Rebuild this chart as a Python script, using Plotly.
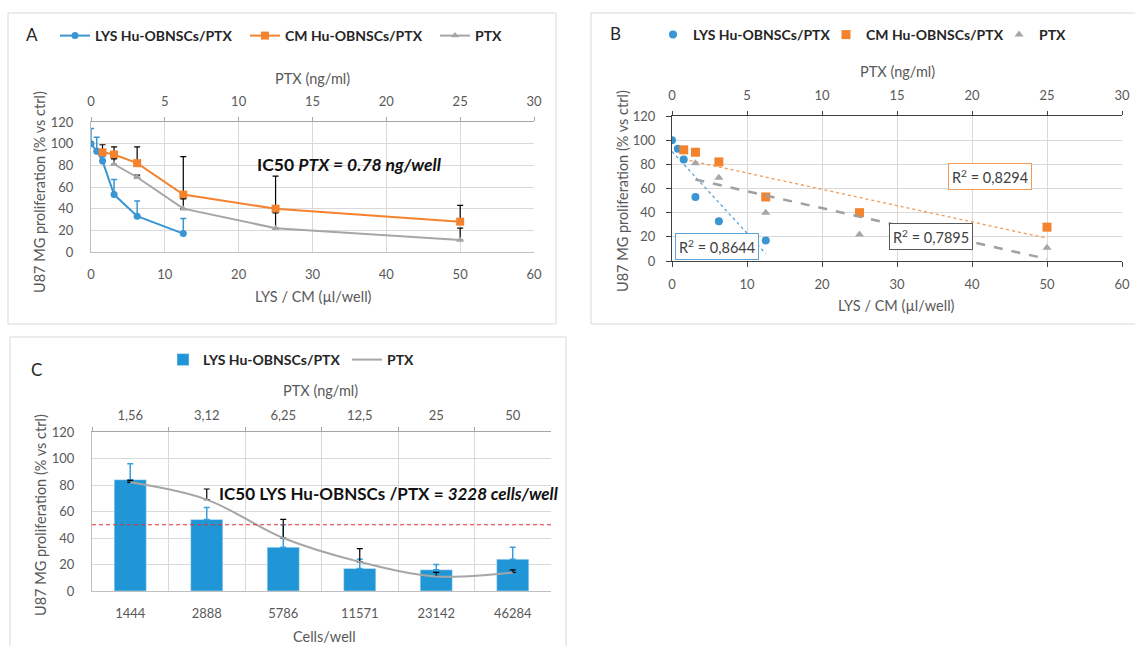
import numpy as np
import plotly.graph_objects as go

# ---------------- data: panels A and B ----------------
lys_x = [0, 0.78, 1.56, 3.125, 6.25, 12.5]          # LYS (ul/well)
lys_y = [100, 93, 84, 53, 33, 17]
lys_err = [14, 13, 4, 14, 14, 14]
cm_x = [1.56, 3.125, 6.25, 12.5, 25, 50]            # CM (ul/well)
cm_y = [92, 90, 82, 53, 40, 28]
cm_err = [7, 7, 15, 35, 30, 15]
ptx_x = [1.56, 3.125, 6.25, 12.5, 25]               # PTX (ng/ml), top axis
ptx_y = [81, 69, 40, 22, 11]
ptx_err = [5, 2, 9, 14, 11]
r2_lys = "R<sup>2</sup> = 0,8644"
r2_cm = "R<sup>2</sup> = 0,8294"
r2_ptx = "R<sup>2</sup> = 0,7895"

# ---------------- data: panel C ----------------
cells = ["1444", "2888", "5786", "11571", "23142", "46284"]
ptx_conc = ["1,56", "3,12", "6,25", "12,5", "25", "50"]
lys_c = [84, 54, 33, 17, 16, 24]
lys_c_err = [12, 9, 17, 7, 4, 9]
ptx_c = [82, 69, 40, 22, 11, 14]
ptx_c_err = [1.5, 8, 14, 10, 3, 2]
ic50_level = 50

names = ["LYS Hu-OBNSCs/PTX", "CM Hu-OBNSCs/PTX", "PTX"]

# ---------------- style ----------------
W, H = 1135, 646
FONT = "Lato"
BLUE = "#3A95D3"
BAR = "#2196D6"
ORANGE = "#F5822D"
GRAY = "#A6A6A6"
GRID = "#D9D9D9"
TXT = "#595959"


def px_x(a, b):
    return [a / W, b / W]


def px_y(top, bottom):
    return [1 - bottom / H, 1 - top / H]


def px(xp, yp):
    return xp / W, 1 - yp / H


def up_err(vals, color, thick=1.2):
    return dict(type="data", symmetric=False, array=vals,
                arrayminus=[0] * len(vals), color=color,
                thickness=thick, width=3)


fig = go.Figure()

# ---------------- Panel A ----------------
fig.add_trace(go.Scatter(x=lys_x, y=lys_y, mode="lines+markers", name=names[0],
                         line=dict(color=BLUE, width=2),
                         marker=dict(symbol="circle", size=7, color=BLUE),
                         error_y=up_err(lys_err, BLUE, 1.5),
                         xaxis="x", yaxis="y", legend="legend"))
fig.add_trace(go.Scatter(x=cm_x, y=cm_y, mode="lines+markers", name=names[1],
                         line=dict(color=ORANGE, width=2),
                         marker=dict(symbol="square", size=8, color=ORANGE),
                         error_y=up_err(cm_err, "#000000"),
                         xaxis="x", yaxis="y", legend="legend"))
fig.add_trace(go.Scatter(x=ptx_x, y=ptx_y, mode="lines+markers", name=names[2],
                         line=dict(color=GRAY, width=2),
                         marker=dict(symbol="triangle-up", size=7, color=GRAY),
                         error_y=up_err(ptx_err, "#000000"),
                         xaxis="x2", yaxis="y", legend="legend",
                         legendwidth=30))

# ---------------- Panel B ----------------
def trend(xs, ys):
    c = np.polyfit(xs, ys, 1)
    xr = np.array([min(xs), max(xs)])
    return xr, np.polyval(c, xr)

tx, ty = trend(lys_x, lys_y)
fig.add_trace(go.Scatter(x=tx, y=ty, mode="lines", showlegend=False,
                         line=dict(color="#5BA3D6", width=1.3, dash="dot"),
                         xaxis="x3", yaxis="y2", hoverinfo="skip"))
tx, ty = trend(cm_x, cm_y)
fig.add_trace(go.Scatter(x=tx, y=ty, mode="lines", showlegend=False,
                         line=dict(color="#F39A55", width=1.3, dash="dot"),
                         xaxis="x3", yaxis="y2", hoverinfo="skip"))
tx, ty = trend(ptx_x, ptx_y)
fig.add_trace(go.Scatter(x=tx, y=ty, mode="lines", showlegend=False,
                         line=dict(color="#A0A0A0", width=2.5, dash="dash"),
                         xaxis="x4", yaxis="y2", hoverinfo="skip"))

fig.add_trace(go.Scatter(x=lys_x, y=lys_y, mode="markers", name=names[0],
                         marker=dict(symbol="circle", size=8, color=BLUE),
                         xaxis="x3", yaxis="y2", legend="legend2"))
fig.add_trace(go.Scatter(x=cm_x, y=cm_y, mode="markers", name=names[1],
                         marker=dict(symbol="square", size=9, color=ORANGE),
                         xaxis="x3", yaxis="y2", legend="legend2"))
fig.add_trace(go.Scatter(x=ptx_x, y=ptx_y, mode="markers", name=names[2],
                         marker=dict(symbol="triangle-up", size=8, color=GRAY),
                         xaxis="x4", yaxis="y2", legend="legend2",
                         legendwidth=30))

# ---------------- Panel C ----------------
fig.add_trace(go.Bar(x=cells, y=lys_c, name=names[0], marker_color=BAR,
                     error_y=up_err(lys_c_err, "#3AA0DC", 1.5),
                     xaxis="x5", yaxis="y3", legend="legend3"))
fig.add_trace(go.Scatter(x=ptx_conc, y=ptx_c, mode="lines", name=names[2],
                         line=dict(color=GRAY, width=2, shape="spline"),
                         error_y=up_err(ptx_c_err, "#000000"),
                         xaxis="x6", yaxis="y3", legend="legend3",
                         legendwidth=30))

fig.add_shape(type="line", xref="x5 domain", x0=0, x1=1, yref="y3",
              y0=ic50_level, y1=ic50_level,
              line=dict(color="#E03030", width=1, dash="4px,3px"))

# ---------------- axes ----------------
tf = dict(family=FONT, size=13, color=TXT)
lin = dict(range=[0, 60], dtick=10, tickfont=tf, zeroline=False)
top = dict(range=[0, 30], dtick=5, tickfont=tf, zeroline=False, side="top",
           showgrid=False, showline=True, ticks="outside", ticklen=4)
yax = dict(range=[0, 120], dtick=20, tickfont=tf, zeroline=False,
           showgrid=True, gridcolor=GRID, showline=True)

fig.update_layout(
    xaxis=dict(**lin, domain=px_x(91, 534), anchor="y", showgrid=True,
               gridcolor=GRID, showline=True, linecolor="#BFBFBF",
               ticks="", ticklabelstandoff=10),
    xaxis2=dict(**top, overlaying="x", anchor="y", linecolor="#A6A6A6",
                tickcolor="#A6A6A6", ticklabelstandoff=6),
    yaxis=dict(**yax, domain=px_y(122, 252), anchor="x", linecolor="#BFBFBF",
               ticks="", ticklabelstandoff=14),
    xaxis3=dict(**lin, domain=px_x(672, 1122), anchor="y2", showgrid=True,
                gridcolor=GRID, showline=True, linecolor="#404040",
                ticks="outside", ticklen=5, tickcolor="#404040",
                ticklabelstandoff=6),
    xaxis4=dict(**top, overlaying="x3", anchor="y2", linecolor="#404040",
                tickcolor="#404040", ticklabelstandoff=6),
    yaxis2=dict(**yax, domain=px_y(116, 261), anchor="x3", linecolor="#404040",
                ticks="outside", ticklen=5, tickcolor="#404040",
                ticklabelstandoff=8),
    xaxis5=dict(type="category", categoryarray=cells, range=[-0.5, 5.5],
                domain=px_x(92, 551), anchor="y3", showgrid=False,
                showline=True, linecolor="#BFBFBF", ticks="", tickfont=tf,
                ticklabelstandoff=10),
    xaxis6=dict(type="category", categoryarray=ptx_conc, range=[-0.5, 5.5],
                overlaying="x5", anchor="y3", side="top", tickson="boundaries",
                showgrid=True, gridcolor=GRID, showline=True,
                linecolor="#A6A6A6", ticks="outside", ticklen=4,
                tickcolor="#A6A6A6", tickfont=tf, ticklabelstandoff=6),
    yaxis3=dict(**yax, domain=px_y(432, 591), anchor="x5", linecolor="#BFBFBF",
                ticks="", ticklabelstandoff=14),
    bargap=0.58,
)

lf = dict(family=FONT, size=14, color="#262626", weight="bold")
leg = dict(orientation="h", xanchor="left", yanchor="middle", font=lf,
           bgcolor="rgba(0,0,0,0)", itemwidth=30, entrywidthmode="pixels")
fig.update_layout(
    legend=dict(**leg, x=55 / W, y=1 - 36 / H, entrywidth=145),
    legend2=dict(**leg, x=653 / W, y=1 - 35 / H, entrywidth=128),
    legend3=dict(**leg, x=163 / W, y=1 - 360 / H, entrywidth=139),
)

# ---------------- annotations ----------------
ann = []


def add_text(text, xp, yp, size=14.5, color=TXT, angle=0, **kw):
    x, y = px(xp, yp)
    ann.append(dict(text=text, x=x, y=y, xref="paper", yref="paper",
                    showarrow=False, textangle=angle,
                    font=dict(family=FONT, size=size, color=color),
                    xanchor="center", yanchor="middle", **kw))

ytitle = "U87 MG proliferation (% vs ctrl)"
# panel A
add_text("A", 32, 35, size=17, color="#262626")
add_text(ytitle, 39, 192, angle=-90)
add_text("PTX (ng/ml)", 312, 79)
add_text("LYS / CM (µl/well)", 313, 296)
add_text("<b>IC50 <i>PTX = 0.78 ng/well</i></b>", 349, 164, size=17.5,
         color="#111111")
# panel B
add_text("B", 615, 33, size=17, color="#262626")
add_text(ytitle, 622, 191, angle=-90)
add_text("PTX (ng/ml)", 897, 72)
add_text("LYS / CM (µl/well)", 896, 305)
box = dict(bgcolor="white", borderwidth=1, borderpad=3)
add_text(r2_lys, 717, 247, size=14.5, color="#404040", bordercolor="#5BA3D6", **box)
add_text(r2_ptx, 931, 236, size=14.5, color="#404040", bordercolor="#595959", **box)
add_text(r2_cm, 990, 176, size=14.5, color="#404040", bordercolor="#F39A55", **box)
# panel C
add_text("C", 36, 370, size=17, color="#262626")
add_text(ytitle, 40, 515, angle=-90)
add_text("PTX (ng/ml)", 320, 390)
add_text("Cells/well", 324, 636)
add_text("<b>IC50 LYS Hu-OBNSCs /PTX = <i>3228 cells/well</i></b>", 388, 493,
         size=17, color="#111111")

fig.update_layout(annotations=ann)

# panel frames
for (x0, y0, x1, y1) in [(8, 13, 556, 324), (591, 13, 1140, 324),
                         (10, 337, 566, 650)]:
    fig.add_shape(type="rect", xref="paper", yref="paper",
                  x0=x0 / W, x1=x1 / W, y0=1 - y1 / H, y1=1 - y0 / H,
                  line=dict(color="#D9D9D9", width=1), layer="below")

fig.update_layout(width=W, height=H, autosize=False,
                  margin=dict(l=0, r=0, t=0, b=0, autoexpand=False),
                  paper_bgcolor="white", plot_bgcolor="rgba(0,0,0,0)",
                  font=dict(family=FONT, color=TXT), showlegend=True)

fig.write_html("out.html", config={"displayModeBar": False},
               post_script="document.body.style.margin='0';"
                           "document.body.style.overflow='hidden';")
